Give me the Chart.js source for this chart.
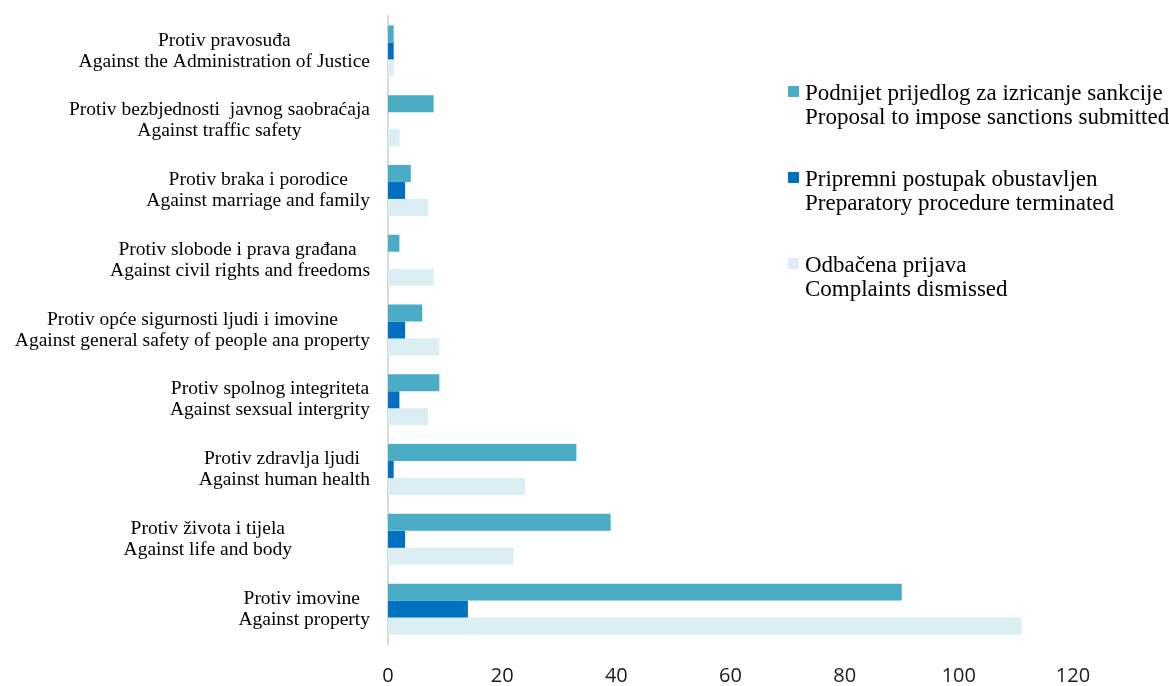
<!DOCTYPE html>
<html lang="bs">
<head>
    <meta charset="UTF-8">
    <title>Krivična djela - prijave</title>
    <script src="https://cdn.jsdelivr.net/npm/chart.js"></script>
    <style>
        body {
            margin: 0;
            padding: 0;
            background-color: #fff;
        }
        .wrap {
            width: 1169px;
            height: 686px;
        }
    </style>
</head>
<body>
    <div class="wrap">
        <canvas id="crimeChart"></canvas>
    </div>

    <script>
        const pad = ' '.repeat(16);
        const categories = [
            ['Protiv pravosuđa', 'Against the Administration of Justice'],
            ['Protiv bezbjednosti  javnog saobraćaja', 'Against traffic safety'],
            ['Protiv braka i porodice', 'Against marriage and family'],
            ['Protiv slobode i prava građana ', 'Against civil rights and freedoms'],
            ['Protiv opće sigurnosti ljudi i imovine', 'Against general safety of people ana property'],
            ['Protiv spolnog integriteta', 'Against sexsual intergrity'],
            ['Protiv zdravlja ljudi ', 'Against human health'],
            ['Protiv života i tijela' + pad, 'Against life and body' + pad],
            ['Protiv imovine ', 'Against property']
        ];
        const seriesNames = [
            ['Podnijet prijedlog za izricanje sankcije', 'Proposal to impose sanctions submitted'],
            ['Pripremni postupak obustavljen', 'Preparatory procedure terminated'],
            ['Odbačena prijava', 'Complaints dismissed']
        ];
        const sanctionsProposed = [1, 8, 4, 2, 6, 9, 33, 39, 90];
        const procedureTerminated = [1, 0, 3, 0, 3, 2, 1, 3, 14];
        const complaintsDismissed = [1, 2, 7, 8, 9, 7, 24, 22, 111];
        const xTicks = [0, 20, 40, 60, 80, 100, 120];

        const colors = ['#4BACC6', '#0070C0', '#DAEEF3'];
        const serif = '"Liberation Serif", "Times New Roman", serif';

        // category labels: each block right-aligned at the axis, lines centred inside it
        const categoryLabels = {
            id: 'categoryLabels',
            afterDraw(chart) {
                const c = chart.ctx;
                const y = chart.scales.y;
                const right = chart.chartArea.left - 18;
                c.save();
                c.font = '19.5px ' + serif;
                c.fillStyle = '#000';
                c.textAlign = 'center';
                c.textBaseline = 'middle';
                categories.forEach((lines, i) => {
                    const w = Math.max(...lines.map(l => c.measureText(l).width));
                    const cx = right - w / 2;
                    const cy = y.getPixelForValue(i);
                    c.fillText(lines[0], cx, cy - 10.5);
                    c.fillText(lines[1], cx, cy + 10.5);
                });
                c.restore();
            }
        };

        // legend inside the plot, two lines per entry
        const sideLegend = {
            id: 'sideLegend',
            afterDraw(chart) {
                const c = chart.ctx;
                const x0 = chart.chartArea.left + 400;
                const y0 = chart.chartArea.top + 76;
                c.save();
                c.font = '23px ' + serif;
                c.textBaseline = 'alphabetic';
                c.textAlign = 'left';
                seriesNames.forEach((lines, i) => {
                    const top = y0 + i * 86;
                    c.fillStyle = colors[i];
                    c.fillRect(x0, top - 6, 11, 11);
                    c.fillStyle = '#000';
                    c.fillText(lines[0], x0 + 17, top + 8);
                    c.fillText(lines[1], x0 + 17, top + 32);
                });
                c.restore();
            }
        };

        new Chart(document.getElementById('crimeChart'), {
            type: 'bar',
            data: {
                labels: categories,
                datasets: [
                    { label: seriesNames[0].join(' '), data: sanctionsProposed, backgroundColor: colors[0] },
                    { label: seriesNames[1].join(' '), data: procedureTerminated, backgroundColor: colors[1] },
                    { label: seriesNames[2].join(' '), data: complaintsDismissed, backgroundColor: colors[2] }
                ]
            },
            options: {
                indexAxis: 'y',
                responsive: true,
                maintainAspectRatio: false,
                animation: false,
                datasets: {
                    bar: {
                        categoryPercentage: 0.73,
                        barPercentage: 1.0
                    }
                },
                layout: {
                    padding: { left: 388, right: 96, top: 16, bottom: 0 }
                },
                plugins: {
                    legend: { display: false },
                    tooltip: { enabled: false }
                },
                scales: {
                    x: {
                        min: 0,
                        max: 120,
                        afterBuildTicks(scale) {
                            scale.ticks = xTicks.map(v => ({ value: v }));
                        },
                        afterFit(scale) {
                            scale.height = 42;
                        },
                        grid: { display: false, drawTicks: false },
                        border: { display: false },
                        ticks: {
                            padding: 20,
                            color: '#1a1a1a',
                            font: { family: '"Open Sans", sans-serif', size: 20 }
                        }
                    },
                    y: {
                        afterFit(scale) {
                            scale.width = 0;
                        },
                        grid: { display: false, drawTicks: false },
                        border: { display: true, color: '#D9D9D9', width: 2 },
                        ticks: { display: false }
                    }
                }
            },
            plugins: [categoryLabels, sideLegend]
        });
    </script>
</body>
</html>
